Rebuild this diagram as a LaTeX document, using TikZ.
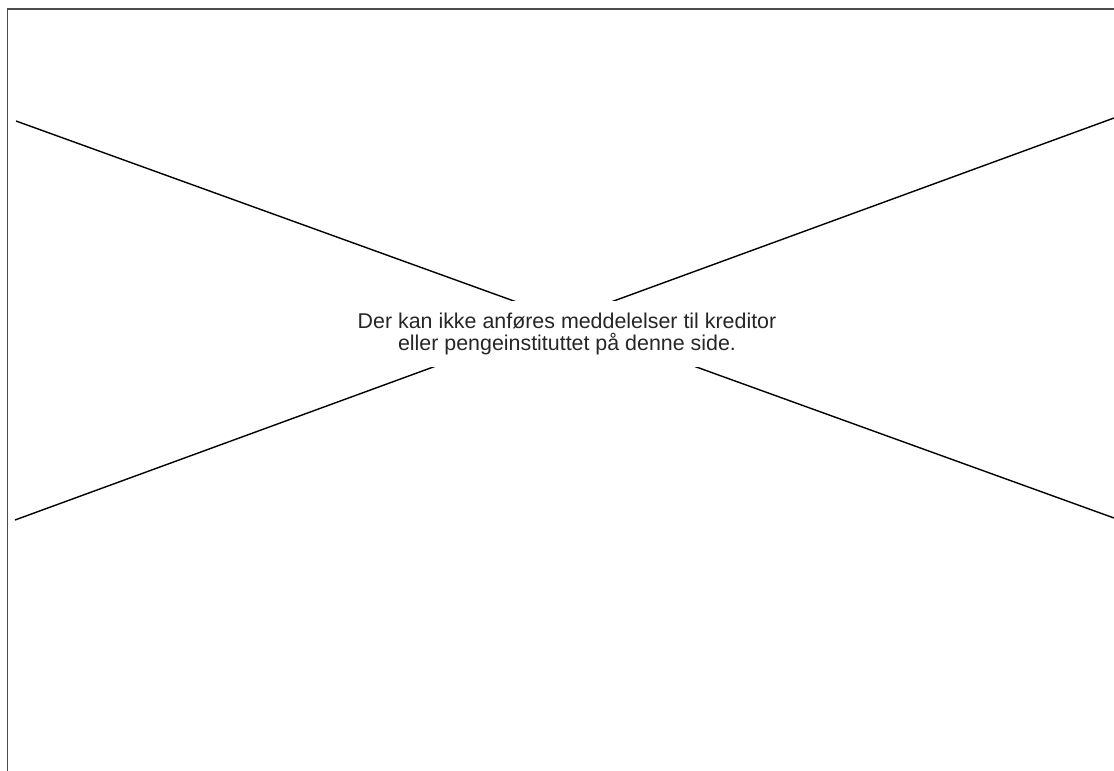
\documentclass[tikz,border=0pt]{standalone}
\usepackage{fontspec}
\setmainfont{Liberation Sans}
\usepackage{tikz}

\begin{document}
\begin{tikzpicture}[x = 0.5pt, y = -0.5pt]
				\useasboundingbox (0, 0) rectangle (1114, 771);
				\draw[line width = 0.6pt, black!70] (7.5, 771)--(7.5, 9)--(1114, 9);

				\coordinate[](a) at (16, 121);
				\coordinate[](b) at (1114, 518);
				\coordinate[](c) at (15, 520);
				\coordinate[](d) at (1114, 118);

				\draw[line width = 0.7pt] (a)--(b);
				\draw[line width = 0.7pt] (c)--(d);

				\node[fill = white, minimum height = 33pt, minimum width = 150pt, inner xsep = 4pt, align = center, font = \fontsize{10.7pt}{11pt}\selectfont, text = black!85](t) at (567, 334){Der kan ikke anføres meddelelser til kreditor\\eller pengeinstituttet på denne side.};
			\end{tikzpicture}
\end{document}
